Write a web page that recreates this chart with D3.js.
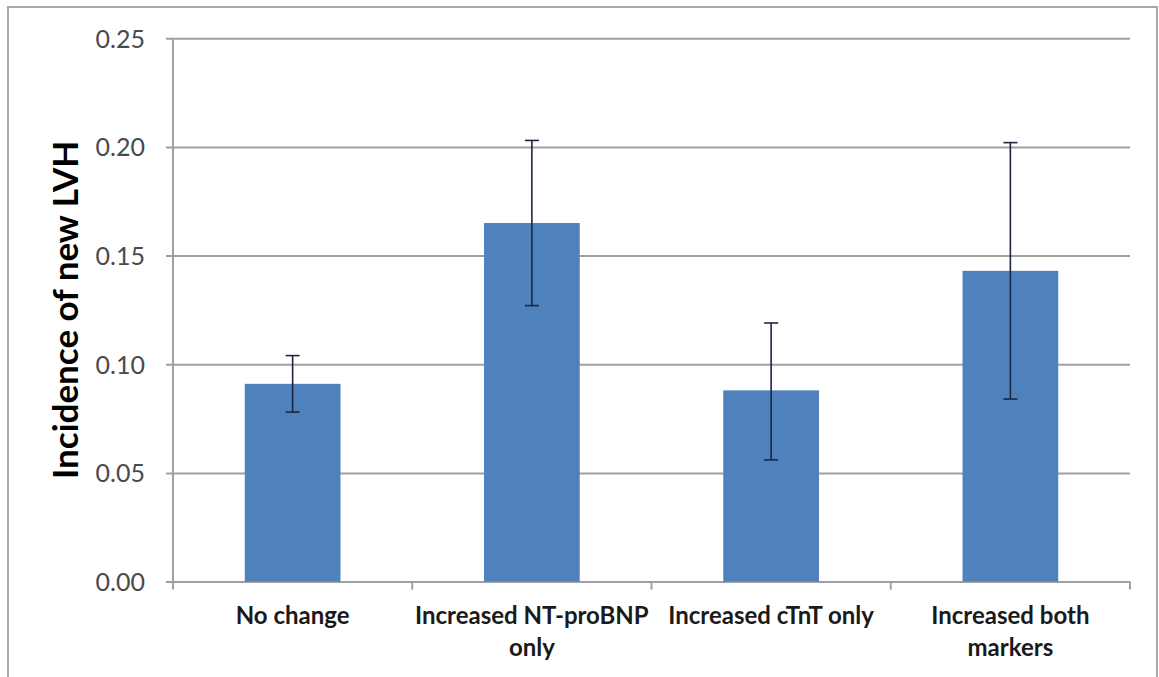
<!DOCTYPE html>
<html>
<head>
<meta charset="utf-8">
<script src="https://cdn.jsdelivr.net/npm/d3@7"></script>
<style>
  html, body { margin: 0; padding: 0; background: #fff; }
  svg { display: block; }
</style>
</head>
<body>
<svg id="chart" width="1159" height="677"></svg>
<script>
// Incidence of new LVH by change in cardiac biomarkers
const categories = ["No change", "Increased NT-proBNP only", "Increased cTnT only", "Increased both markers"];
const categoryLines = [["No change"], ["Increased NT-proBNP", "only"], ["Increased cTnT only"], ["Increased both", "markers"]];
const incidence = [0.091, 0.165, 0.088, 0.143];
const ciLower = [0.078, 0.127, 0.056, 0.084];
const ciUpper = [0.104, 0.203, 0.119, 0.202];
const yTicks = [0, 0.05, 0.10, 0.15, 0.20, 0.25];
const yTitle = "Incidence of new LVH";

const svg = d3.select("#chart");
const W = 1159, H = 677;
const plot = { left: 173, right: 1130, top: 38.3, bottom: 581.6 };

// outer chart frame
svg.append("path")
  .attr("d", `M8,${H + 2} L8,7 L1157,7 L1157,${H + 2}`)
  .attr("fill", "none")
  .attr("stroke", "#a8a8a8")
  .attr("stroke-width", 2);

const x = d3.scaleBand().domain(categories).range([plot.left, plot.right]).padding(0);
const y = d3.scaleLinear().domain([0, 0.25]).range([plot.bottom, plot.top]);

// horizontal gridlines with left tick stubs
const yAxis = d3.axisLeft(y).tickValues(yTicks).tickFormat(d3.format(".2f"))
  .tickSize(-(plot.right - plot.left)).tickPadding(0);
const gy = svg.append("g").attr("transform", `translate(${plot.left},0)`).call(yAxis);
gy.select(".domain").remove();
gy.selectAll(".tick line")
  .attr("x1", -7)
  .attr("stroke", "#a0a0a0")
  .attr("stroke-width", 2);
gy.selectAll(".tick text")
  .attr("x", -28)
  .attr("dy", "0.36em")
  .attr("fill", "#4a4a4a")
  .style("font-family", "Lato, 'Open Sans', sans-serif")
  .style("font-size", "25px");

// vertical value axis line
svg.append("line")
  .attr("x1", plot.left).attr("x2", plot.left)
  .attr("y1", plot.top).attr("y2", plot.bottom + 7)
  .attr("stroke", "#a0a0a0").attr("stroke-width", 2);

// category axis tick marks at band boundaries
const boundaries = categories.map(c => x(c)).concat([plot.right]);
svg.append("g").selectAll("line").data(boundaries).join("line")
  .attr("x1", d => d).attr("x2", d => d)
  .attr("y1", plot.bottom).attr("y2", plot.bottom + 8)
  .attr("stroke", "#a0a0a0").attr("stroke-width", 2);

// bars
const barFrac = 0.4;
const bw = x.bandwidth() * barFrac;
const cx = c => x(c) + x.bandwidth() / 2;
svg.append("g").selectAll("rect").data(categories).join("rect")
  .attr("x", c => cx(c) - bw / 2)
  .attr("width", bw)
  .attr("y", (c, i) => y(incidence[i]))
  .attr("height", (c, i) => y(0) - y(incidence[i]))
  .attr("fill", "#4f81bd");

// error bars
const capW = 14;
const eg = svg.append("g").attr("stroke", "#1c2640").attr("stroke-width", 1.6);
categories.forEach((c, i) => {
  const xc = cx(c);
  eg.append("line").attr("x1", xc).attr("x2", xc).attr("y1", y(ciLower[i])).attr("y2", y(ciUpper[i]));
  eg.append("line").attr("x1", xc - capW / 2).attr("x2", xc + capW / 2).attr("y1", y(ciUpper[i])).attr("y2", y(ciUpper[i]));
  eg.append("line").attr("x1", xc - capW / 2).attr("x2", xc + capW / 2).attr("y1", y(ciLower[i])).attr("y2", y(ciLower[i]));
});

// category labels
const lbl = svg.append("g")
  .style("font-family", "Lato, 'Open Sans', sans-serif")
  .style("font-size", "24px")
  .style("font-weight", "bold")
  .attr("fill", "#1a1a1a")
  .attr("text-anchor", "middle");
categories.forEach((c, i) => {
  const t = lbl.append("text").attr("x", cx(c)).attr("y", 624);
  categoryLines[i].forEach((line, k) => {
    t.append("tspan").attr("x", cx(c)).attr("dy", k === 0 ? 0 : 32).text(line);
  });
});

// value axis title
svg.append("text")
  .attr("transform", `translate(78,${(plot.top + plot.bottom) / 2}) rotate(-90)`)
  .attr("text-anchor", "middle")
  .attr("fill", "#000")
  .style("font-family", "Lato, 'Open Sans', sans-serif")
  .style("font-size", "35px")
  .style("font-weight", "bold")
  .text(yTitle);
</script>
</body>
</html>
